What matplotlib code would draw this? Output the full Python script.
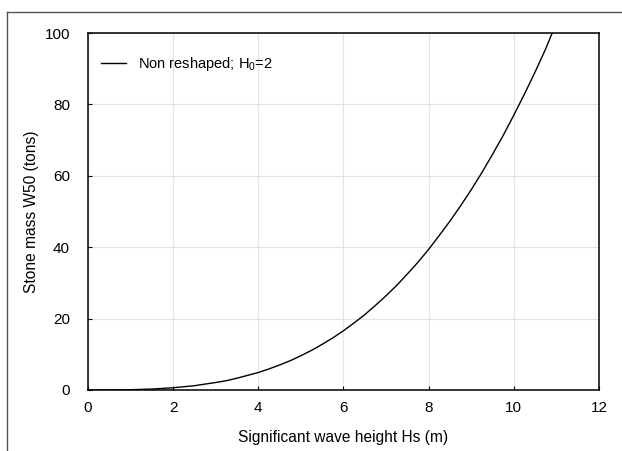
import matplotlib
matplotlib.use('Agg')
import matplotlib.pyplot as plt
from matplotlib.lines import Line2D

plt.rcParams['font.family'] = ['Liberation Sans', 'DejaVu Sans']
plt.rcParams['mathtext.fontset'] = 'custom'
plt.rcParams['mathtext.rm'] = 'Liberation Sans'
plt.rcParams['mathtext.it'] = 'Liberation Sans'

# values
hs = [0, 0.5, 1, 1.5, 2, 2.5, 3, 3.25, 3.5, 3.75, 4, 4.25, 4.5, 4.75, 5, 5.25, 5.5, 5.75,
      6, 6.25, 6.5, 6.75, 7, 7.25, 7.5, 7.75, 8, 8.25, 8.5, 8.75, 9, 9.25, 9.5, 9.75,
      10, 10.25, 10.5, 10.75, 10.9]
w50 = [0, 0.01, 0.08, 0.26, 0.62, 1.2, 2.1, 2.6, 3.3, 4.1, 4.9, 5.9, 7.0, 8.2, 9.6, 11.1, 12.8, 14.6,
       16.6, 18.8, 21.1, 23.7, 26.4, 29.3, 32.5, 35.8, 39.4, 43.3, 47.3, 51.6, 56.1, 60.9, 66.0, 71.3,
       77.0, 82.9, 89.1, 95.6, 100]
x_ticks = [0, 2, 4, 6, 8, 10, 12]
y_ticks = [0, 20, 40, 60, 80, 100]

fig = plt.figure(figsize=(6.22, 4.51), dpi=100)
ax = fig.add_axes([0.1415, 0.1353, 0.8215, 0.7915])

ax.plot(hs, w50, color='black', linewidth=1.0, label='Non reshaped; H$_{\\mathregular{0}}$=2')

ax.set_xlim(0, 12)
ax.set_ylim(0, 100)
ax.set_xticks(x_ticks)
ax.set_yticks(y_ticks)
ax.grid(True, color='#e3e3e3', linewidth=0.8)
ax.tick_params(direction='in', length=3, labelsize=11)
ax.tick_params(axis='y', pad=13)
ax.tick_params(axis='x', pad=8)
for s in ax.spines.values():
    s.set_linewidth(1.1)

ax.set_xlabel('Significant wave height Hs (m)', fontsize=11.2, labelpad=11)
ax.set_ylabel('Stone mass W50 (tons)', fontsize=11.2, labelpad=4)

ax.legend(loc='upper left', bbox_to_anchor=(0.0, 0.975), frameon=False, fontsize=10.5,
          handlelength=1.7, handletextpad=0.8)

# outer frame of the original figure (top and left edges)
x0 = 7 / 622
y0 = 1 - 12 / 451
fig.add_artist(Line2D([x0, 1], [y0, y0], transform=fig.transFigure, color='#555555', linewidth=1))
fig.add_artist(Line2D([x0, x0], [0, y0], transform=fig.transFigure, color='#555555', linewidth=1))

fig.savefig('out.png', dpi=100)
